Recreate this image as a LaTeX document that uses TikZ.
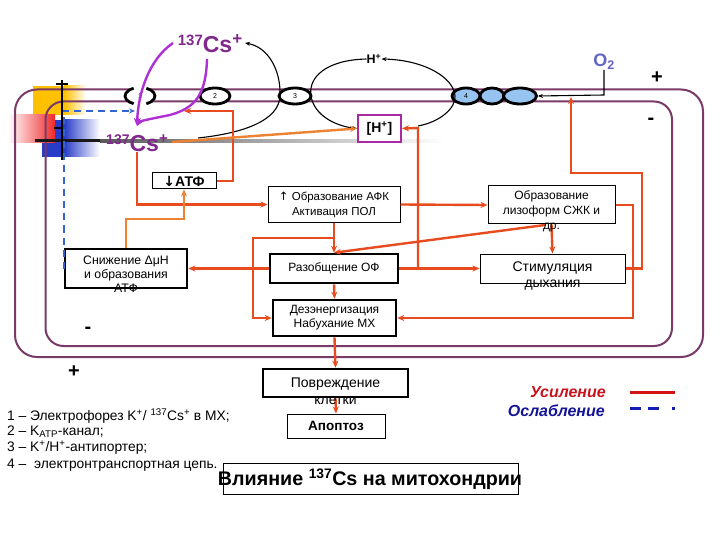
\documentclass[tikz,border=0pt]{standalone}
\usepackage{fontspec}
\setmainfont{Liberation Sans}
\newfontfamily\djv{DejaVu Sans}
\usetikzlibrary{arrows.meta,calc,shapes.geometric}
\newcommand{\myfs}[1]{\fontsize{#1}{#1}\selectfont}
\definecolor{memc}{RGB}{122,58,104}
\definecolor{orc}{RGB}{232,76,30}
\definecolor{lorc}{RGB}{236,130,50}
\definecolor{parc}{RGB}{176,48,216}
\definecolor{csc}{RGB}{128,40,140}
\definecolor{hbc}{RGB}{170,40,160}
\definecolor{bdc}{RGB}{50,100,210}
\definecolor{ch4c}{RGB}{150,195,240}
\definecolor{yel}{RGB}{255,192,0}
\definecolor{redc}{RGB}{240,40,40}
\definecolor{blu}{RGB}{40,60,200}
\definecolor{o2c}{RGB}{100,100,200}
\definecolor{usc}{RGB}{200,20,30}
\definecolor{osc}{RGB}{20,20,150}
\definecolor{lgr}{RGB}{210,20,20}
\definecolor{lgb}{RGB}{20,30,180}
\begin{document}
\begin{tikzpicture}[x=1pt,y=-1pt,
  txt/.style={inner sep=0pt},
  tbox/.style={draw, line width=1pt, fill=white, inner sep=0pt},
  kbox/.style={draw, line width=2.6pt, fill=white, inner sep=0pt},
  mem/.style={draw=memc, line width=2pt},
  chan/.style={draw=black, line width=2.8pt},
  oarrow/.style={draw=orc, line width=2.4pt, -{Stealth[length=7pt,width=6pt]}},
  loarrow/.style={draw=lorc, line width=2.4pt, -{Stealth[length=7pt,width=6pt]}},
  parrow/.style={draw=parc, line width=2.4pt, -{Stealth[length=8pt,width=7pt]}},
  karrow/.style={draw=black, line width=1.1pt, -{Stealth[length=5pt,width=4pt]}},
  kline/.style={draw=black, line width=1.1pt},
  bdash/.style={draw=bdc, line width=2pt, dash pattern=on 7pt off 5pt, -{Stealth[length=6pt,width=5pt]}},
  sign/.style={inner sep=0pt, font=\myfs{20}\bfseries},
  cs/.style={inner sep=0pt, text=csc, font=\myfs{23}\bfseries, anchor=base}
]
\useasboundingbox (0,0) rectangle (720,540);
\fill[white] (0,0) rectangle (720,540);

% colour patches on the left
\fill[yel] (33,86) rectangle (64,115);
\shade[left color=yel, right color=white] (64,86) rectangle (86,115);
\fill[blu] (42,120) rectangle (64,157);
\shade[left color=blu, right color=white] (64,120) rectangle (100,157);
\shade[left color=white, right color=redc] (8,115) rectangle (55,143);

% membranes
\draw[mem, rounded corners=22pt] (15,89.5) rectangle (703,357);
\draw[mem, rounded corners=18pt] (45.5,101.5) rectangle (672,346);

% grey potential line
\fill[black!90] (35,139.5) rectangle (100,142.5);
\shade[left color=black!65, right color=white] (100,139.5) rectangle (445,142.5);

% black electrode line with signs
\draw[black, line width=2.5pt] (62,80) -- (62,160);
\draw[black, line width=2pt] (56,84) -- (68,84);
\draw[black, line width=2pt] (54,128) -- (61,128);

% channels
\node[ellipse, fill=white, minimum width=30pt, minimum height=17pt, inner sep=0pt, font=\myfs{7}] (ch1) at (140,96) {1};
\draw[chan] ([shift={(115:15pt and 8.5pt)}]ch1.center) arc[start angle=115, end angle=245, x radius=15pt, y radius=8.5pt];
\draw[chan] ([shift={(-65:15pt and 8.5pt)}]ch1.center) arc[start angle=-65, end angle=65, x radius=15pt, y radius=8.5pt];
\node[ellipse, draw, line width=2.8pt, fill=white, minimum width=30pt, minimum height=16pt, inner sep=0pt, font=\myfs{7}] (ch2) at (215,96) {2};
\node[ellipse, draw, line width=2.8pt, fill=white, minimum width=32pt, minimum height=16pt, inner sep=0pt, font=\myfs{7}] (ch3) at (295,96) {3};
\node[ellipse, draw, line width=2.8pt, fill=ch4c, minimum width=28pt, minimum height=16pt, inner sep=0pt, font=\myfs{7}] (ch4a) at (466,96) {4};
\node[ellipse, draw, line width=2.8pt, fill=ch4c, minimum width=24pt, minimum height=16pt, inner sep=0pt] (ch4b) at (492,96) {};
\node[ellipse, draw, line width=2.8pt, fill=ch4c, minimum width=33pt, minimum height=16pt, inner sep=0pt] (ch4c) at (520,96) {};

% Cs labels
\node[cs] (csup) at (210,53) {\raisebox{7pt}{\myfs{15}137}Cs\raisebox{8pt}{\myfs{17}+}};
\node[cs] (cslo) at (137,152) {\raisebox{7pt}{\myfs{14}137}Cs\raisebox{8pt}{\myfs{15}+}};

% H+ labels and O2
\node[txt, font=\myfs{12.5}\bfseries] (hplus) at (374,59) {H\textsuperscript{+}};
\node[draw=hbc, line width=2pt, fill=white, minimum width=43pt, minimum height=27pt, inner sep=0pt, font=\myfs{14}\bfseries] (hbox) at (379.5,128.5) {[H\textsuperscript{+}]};
\node[txt, text=o2c, font=\myfs{18}\bfseries] (o2) at (604,62) {O\textsubscript{2}};

% signs
\node[sign] (pr) at (657,78) {+};
\node[sign] (mr) at (651,121) {-};
\node[sign] (ml) at (88,330) {-};
\node[sign] (pl) at (74,372) {+};

% coordinates
\coordinate (pa1) at (173,43);
\coordinate (pb1) at (207,59);
\coordinate (cstop) at (137,126);
\coordinate (k3s) at (198,138);
\coordinate (k3e) at (245,43);
\coordinate (h4s) at (418,126);
\coordinate (o2c1) at (604,95);
\coordinate (c2a) at (233,111);
\coordinate (c2b) at (184,111);
\coordinate (j1) at (184,219);
\coordinate (jh) at (418,128);
\coordinate (j633) at (633,318);
\coordinate (j642) at (642,173);
\coordinate (jo2) at (571,97);
\coordinate (lizs2) at (545,225);
\coordinate (jb) at (334,238);
\coordinate (j253) at (253,318);
\coordinate (c1in) at (135,111);
\coordinate (csr) at (172,142);

% purple curved arrows
\draw[parrow] (pa1) .. controls (148,60) and (138,95) .. (cstop);
\draw[parrow] (pb1) .. controls (206,95) and (195,108) .. (170,115) .. controls (150,119) and (140,121) .. (cstop);

% black transport arcs
\draw[karrow] (k3s) .. controls (245,133) and (279,120) .. (280,96) .. controls (281,70) and (268,47) .. (k3e);
\draw[karrow] (hplus.west) .. controls (325,60) and (308,78) .. (311,96) .. controls (314,115) and (335,126) .. (hbox.west);
\draw[karrow] (h4s) .. controls (440,122) and (456,108) .. (455,96) .. controls (454,78) and (425,60) .. (hplus.east);
\draw[karrow] (o2.south) -- (o2c1) -- (ch4c.east);

% boxes
\node[tbox, minimum width=64pt, minimum height=16pt, font=\myfs{14}\bfseries] (atf) at (184,181) {{\djv\bfseries ↓}АТФ};
\node[tbox, minimum width=132pt, minimum height=36pt, align=center, font=\fontsize{11.5}{15}\selectfont] (afk) at (334,204.5) {{\djv ↑} Образование АФК\\Активация ПОЛ};
\node[kbox, minimum width=128pt, minimum height=29pt, font=\myfs{12}] (razob) at (334,268.5) {Разобщение ОФ};
\node[kbox, minimum width=123pt, minimum height=36pt, align=center, font=\fontsize{12}{14}\selectfont] (dez) at (334.5,318) {Дезэнергизация\\Набухание МХ};
\node[kbox, minimum width=122pt, minimum height=39pt] (snizh) at (126,268.5) {};
\node[tbox, minimum width=127pt, minimum height=38pt] (liz) at (551.5,205) {};
\node[tbox, minimum width=145pt, minimum height=29pt] (stim) at (552.5,268.5) {};
\node[kbox, minimum width=145pt, minimum height=28pt] (povr) at (335.5,383) {};
\node[tbox, minimum width=98pt, minimum height=24pt, font=\myfs{13.5}\bfseries] (apop) at (336,426) {Апоптоз};
\node[tbox, minimum width=295pt, minimum height=31pt] (titb) at (370.5,478.5) {};

% orange connectors
\draw[oarrow] (cslo.south) |- (afk.west);
\draw[oarrow] (atf.east) -| (c2a) -- (c2b);
\draw[loarrow] (snizh.north) |- (j1) -- (atf.south);
\draw[loarrow] (csr) -- (hbox.west);
\draw[oarrow] (afk.east) -- (liz.west);
\draw[oarrow] (razob.east) -| (jh) -- (hbox.east);
\draw[oarrow] (razob.east) -- (stim.west);
\draw[oarrow] (liz.east) -| (j633) -- (dez.east);
\draw[oarrow] (stim.east) -| (j642) -| (jo2);
\draw[oarrow] (liz.south) -- (stim.north);
\draw[oarrow] (lizs2) -- (razob.north);
\draw[oarrow] (afk.south) -- (razob.north);
\draw[oarrow] (jb) -| (j253) -- (dez.west);
\draw[oarrow] (razob.west) -- (snizh.east);
\draw[oarrow] (razob.south) -- (dez.north);
\draw[oarrow] (dez.south) -- (povr.north);
\draw[oarrow] (povr.south) -- (apop.north);
\draw[bdash] (snizh.west) |- (c1in);

% overflowing box texts
\node[txt, align=center, font=\fontsize{12.3}{14}\selectfont] (snizht) at (126,274.5) {Снижение ΔμН\\и образования\\АТФ};
\node[txt, align=center, font=\fontsize{12}{15}\selectfont] (lizt) at (551.5,211) {Образование\\лизоформ СЖК и\\др.};
\node[txt, align=center, font=\fontsize{14}{16}\selectfont] (stimt) at (552.5,276) {Стимуляция\\дыхания};
\node[txt, align=center, font=\fontsize{14}{17}\selectfont] (povrt) at (335.5,391) {Повреждение\\клетки};
\node[txt, font=\myfs{19.7}\bfseries] (titt) at (370,479) {Влияние \textsuperscript{137}Cs на митохондрии};

% legend
\node[txt, anchor=west, font=\myfs{13.8}] (l1) at (7,416) {1 – Электрофорез K\textsuperscript{+}/ \textsuperscript{137}Cs\textsuperscript{+} в МХ;};
\node[txt, anchor=west, font=\myfs{13.8}] (l2) at (7,432) {2 – K\textsubscript{АТР}-канал;};
\node[txt, anchor=west, font=\myfs{13.8}] (l3) at (7,448) {3 – K\textsuperscript{+}/H\textsuperscript{+}-антипортер;};
\node[txt, anchor=west, font=\myfs{13.8}] (l4) at (7,465) {4 –\ \ электронтранспортная цепь.};
\node[txt, anchor=east, text=usc, font=\myfs{16}\bfseries\itshape] (usil) at (606,392) {Усиление};
\node[txt, anchor=east, text=osc, font=\myfs{16}\bfseries\itshape] (osl) at (605,411) {Ослабление};
\coordinate (lr1) at (630,392);
\coordinate (lr2) at (675,392);
\coordinate (lb1) at (630,408);
\coordinate (lb2) at (675,408);
\draw[draw=lgr, line width=3pt] (lr1) -- (lr2);
\draw[draw=lgb, line width=3pt, dash pattern=on 11pt off 7pt on 11pt off 13pt on 3pt] (lb1) -- (lb2);
\end{tikzpicture}
\end{document}
